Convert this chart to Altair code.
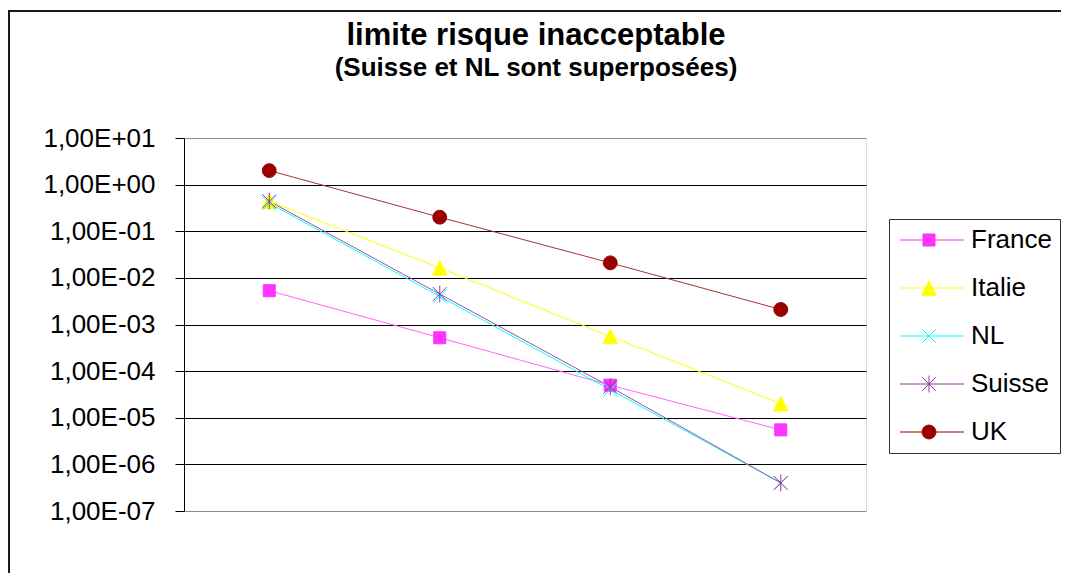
import altair as alt
import pandas as pd

# ---- data ----
points = ["1", "2", "3", "4"]
pays = ["France", "Italie", "NL", "Suisse", "UK"]
france = [5.3e-3, 5.2e-4, 5.0e-5, 5.5e-6]
italie = [0.44, 1.64e-2, 5.6e-4, 2.0e-5]
nl = [0.40, 4.0e-3, 4.0e-5, 4.0e-7]
suisse = [0.44, 4.5e-3, 4.6e-5, 4.0e-7]
uk = [2.0, 0.2, 0.021, 2.1e-3]

y_ticks = [1e-7, 1e-6, 1e-5, 1e-4, 1e-3, 1e-2, 1e-1, 1e0, 1e1]
y_tick_labels = ["1,00E-07", "1,00E-06", "1,00E-05", "1,00E-04", "1,00E-03",
                 "1,00E-02", "1,00E-01", "1,00E+00", "1,00E+01"]

title_text = "limite risque inacceptable"
subtitle_text = "(Suisse et NL sont superposées)"

# ---- styles ----
line_colors = ["#FF66FF", "#FFFF00", "#00FFFF", "#A050A0", "#A83232"]
marker_fill = ["#FF33FF", "#FFFF00", "transparent", "transparent", "#990000"]
marker_stroke = ["#FF33FF", "#FFFF00", "#00FFFF", "#993399", "#990000"]
marker_paths = [
    "M-1,-1H1V1H-1Z",
    "M0,-1.2L1.2,1.2L-1.2,1.2Z",
    "M-1.15,-1.15L1.15,1.15M-1.15,1.15L1.15,-1.15",
    "M-1.15,-1.15L1.15,1.15M-1.15,1.15L1.15,-1.15M0,-1.4V1.4",
    "M-1.15,0A1.15,1.15,0,1,0,1.15,0A1.15,1.15,0,1,0,-1.15,0Z",
]
legend_line = "M-4.83,0H5.83"
legend_paths = [legend_line + p for p in marker_paths]

series = {"France": france, "Italie": italie, "NL": nl, "Suisse": suisse, "UK": uk}
rows = []
for p in pays:
    for x, v in zip(points, series[p]):
        rows.append({"pays": p, "point": x, "valeur": v})
df = pd.DataFrame(rows)

label_expr = "[" + ",".join("'%s'" % s for s in y_tick_labels) + "][round(log(datum.value)/LN10)+7]"

FONT = "Liberation Sans"

x_enc = alt.X("point:O", axis=None, scale=alt.Scale(domain=points))
y_enc = alt.Y(
    "valeur:Q",
    scale=alt.Scale(type="log", domain=[1e-7, 10], nice=False),
    axis=alt.Axis(
        values=y_ticks,
        labelExpr=label_expr,
        title=None,
        labelFont=FONT,
        labelFontSize=26,
        labelColor="black",
        labelPadding=20,
        tickSize=9,
        tickColor="black",
        domainColor="black",
        grid=True,
        gridColor={"condition": {"test": "datum.value >= 10 || datum.value <= 1e-7",
                                 "value": "#8c8c8c"}, "value": "#000000"},
        gridWidth=1,
        gridOpacity=1,
    ),
)

legend = alt.Legend(
    orient="none",
    legendX=705,
    legendY=81,
    title=None,
    padding=8,
    strokeColor="#333333",
    fillColor="white",
    labelFont=FONT,
    labelFontSize=26,
    labelColor="black",
    labelOffset=29,
    symbolOffset=19,
    rowPadding=22,
    symbolSize=144,
    symbolStrokeWidth=1,
    symbolOpacity=1,
)

lines = alt.Chart(df).mark_line(strokeWidth=1).encode(
    x=x_enc,
    y=y_enc,
    color=alt.Color("pays:N", scale=alt.Scale(domain=pays, range=line_colors), legend=None),
    detail="pays:N",
)

pts = alt.Chart(df).mark_point(size=144, strokeWidth=1, opacity=1).encode(
    x=x_enc,
    y=y_enc,
    fill=alt.Fill("pays:N", scale=alt.Scale(domain=pays, range=marker_fill), legend=None),
    stroke=alt.Stroke("pays:N", scale=alt.Scale(domain=pays, range=marker_stroke), legend=None),
    shape=alt.Shape("pays:N", scale=alt.Scale(domain=pays, range=marker_paths), legend=None),
)

legend_layer = alt.Chart(df).transform_filter("false").mark_point(
    size=144, strokeWidth=1, opacity=1
).encode(
    x=x_enc,
    y=y_enc,
    fill=alt.Fill("pays:N", scale=alt.Scale(domain=pays, range=marker_fill), legend=legend),
    stroke=alt.Stroke("pays:N", scale=alt.Scale(domain=pays, range=marker_stroke), legend=legend),
    shape=alt.Shape("pays:N", scale=alt.Scale(domain=pays, range=legend_paths), legend=legend),
)

frame = alt.Chart(pd.DataFrame({"a": [0]})).mark_rect(
    filled=False, stroke="#1a1a1a", strokeWidth=2
).encode(
    x=alt.value(-175), x2=alt.value(1000), y=alt.value(-127), y2=alt.value(1000)
)

chart = alt.layer(frame, lines, pts, legend_layer).resolve_scale(
    shape="independent", fill="independent", stroke="independent"
).properties(
    width=682,
    height=373,
    autosize=alt.AutoSizeParams(type="none"),
    padding={"left": 176, "top": 130, "right": 195, "bottom": 62},
    title=alt.TitleParams(
        text=title_text,
        subtitle=subtitle_text,
        anchor="middle",
        frame="group",
        dx=11,
        font=FONT,
        fontSize=31,
        fontWeight="bold",
        color="black",
        subtitleFont=FONT,
        subtitleFontSize=26,
        subtitleFontWeight="bold",
        subtitleColor="black",
        subtitlePadding=3,
        offset=-72,
    ),
).configure_view(stroke="#8c8c8c", strokeWidth=1).configure(background="white")

chart.save("out.html", embed_options={"renderer": "svg", "actions": False})
